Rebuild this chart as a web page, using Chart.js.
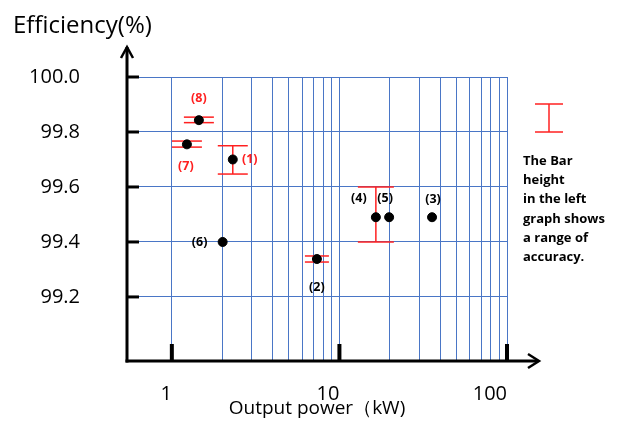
<!DOCTYPE html>
<html>
<head>
<meta charset="utf-8">
<script src="https://cdn.jsdelivr.net/npm/chart.js@4.4.1/dist/chart.umd.min.js"></script>
<style>
html, body { margin: 0; padding: 0; background: #fff; }
canvas { display: block; }
</style>
</head>
<body>
<canvas id="chart" width="617" height="421"></canvas>
<script>
// data
const pointLabels = ['(1)', '(2)', '(3)', '(4)', '(5)', '(6)', '(7)', '(8)'];
const powerKw = [2.31, 7.34, 35.7, 16.5, 19.8, 2.01, 1.23, 1.45];
const efficiency = [99.70, 99.338, 99.49, 99.49, 99.49, 99.40, 99.755, 99.843];
const errLow = [99.647, 99.327, null, 99.40, null, null, 99.745, 99.834];
const errHigh = [99.75, 99.349, null, 99.60, null, null, 99.767, 99.854];
const xGridValues = [1, 2, 3, 4, 5, 6, 7, 8, 9, 10, 20, 30, 40, 50, 60, 70, 80, 90, 100];
const xTickLabels = [1, 10, 100];
const yTickValues = [99.2, 99.4, 99.6, 99.8, 100.0];
const noteLines = ['The Bar', 'height', 'in the left', 'graph shows', 'a range of', 'accuracy.'];

// styling
const FONT = '"Open Sans", "Noto Sans", sans-serif';
const RED = '#ff2020';
const GRID = '#4a76c6';
const labelRed = [true, false, false, false, false, false, true, true];
const labelShift = [[17, 0], [0, 28], [1, -18], [-17, -19], [-4, -19], [-23, 0], [-1, 22], [0, -22]];
const capHalf = [15, 12, 0, 18, 0, 0, 15, 15];

function line(ctx, x1, y1, x2, y2) {
    ctx.beginPath();
    ctx.moveTo(x1, y1);
    ctx.lineTo(x2, y2);
    ctx.stroke();
}

const overlay = {
    id: 'overlay',
    beforeDatasetsDraw(chart) {
        const { ctx, scales: { x, y } } = chart;
        ctx.save();
        ctx.strokeStyle = RED;
        ctx.lineWidth = 1.5;
        powerKw.forEach((v, i) => {
            if (errLow[i] == null) return;
            const px = x.getPixelForValue(v);
            const lo = y.getPixelForValue(errLow[i]);
            const hi = y.getPixelForValue(errHigh[i]);
            line(ctx, px, lo, px, hi);
            line(ctx, px - capHalf[i], lo, px + capHalf[i], lo);
            line(ctx, px - capHalf[i], hi, px + capHalf[i], hi);
        });
        ctx.restore();
    },
    afterDraw(chart) {
        const { ctx, chartArea: { left, right, top, bottom }, scales: { x, y } } = chart;
        ctx.save();
        ctx.strokeStyle = '#000';
        ctx.lineCap = 'butt';

        // axes with arrows
        ctx.lineWidth = 3;
        line(ctx, left, bottom + 1.5, left, top - 30);
        line(ctx, left - 1.5, bottom, right + 31, bottom);
        ctx.lineWidth = 2.5;
        ctx.beginPath();
        ctx.moveTo(left - 6, top - 19);
        ctx.lineTo(left, top - 30);
        ctx.lineTo(left + 6, top - 19);
        ctx.stroke();
        ctx.beginPath();
        ctx.moveTo(right + 21, bottom - 7);
        ctx.lineTo(right + 32, bottom);
        ctx.lineTo(right + 21, bottom + 7);
        ctx.stroke();

        // tick marks
        ctx.lineWidth = 3;
        yTickValues.forEach(v => {
            const py = y.getPixelForValue(v);
            line(ctx, left, py, left + 12, py);
        });
        ctx.lineWidth = 4;
        xTickLabels.forEach(v => {
            const px = x.getPixelForValue(v);
            line(ctx, px, bottom, px, bottom - 17);
        });

        // point labels
        ctx.font = 'bold 12.5px ' + FONT;
        ctx.textAlign = 'center';
        ctx.textBaseline = 'middle';
        pointLabels.forEach((t, i) => {
            ctx.fillStyle = labelRed[i] ? RED : '#000';
            ctx.fillText(t, x.getPixelForValue(powerKw[i]) + labelShift[i][0],
                y.getPixelForValue(efficiency[i]) + labelShift[i][1]);
        });

        // y title
        ctx.fillStyle = '#000';
        ctx.textAlign = 'left';
        ctx.font = '24px ' + FONT;
        ctx.fillText('Efficiency(%)', 13, 26);

        // accuracy note
        ctx.strokeStyle = RED;
        ctx.lineWidth = 1.5;
        const nx = right + 42;
        line(ctx, nx, 104, nx, 132);
        line(ctx, nx - 14, 104, nx + 14, 104);
        line(ctx, nx - 14, 132, nx + 14, 132);
        ctx.font = 'bold 13px ' + FONT;
        noteLines.forEach((t, i) => ctx.fillText(t, right + 16, 161 + i * 19.3));
        ctx.restore();
    }
};

new Chart(document.getElementById('chart'), {
    type: 'scatter',
    data: {
        datasets: [{
            data: powerKw.map((v, i) => ({ x: v, y: efficiency[i] })),
            backgroundColor: '#000',
            borderColor: '#000',
            borderWidth: 1,
            pointRadius: 4.5,
            pointHoverRadius: 4.5
        }]
    },
    options: {
        responsive: false,
        animation: false,
        devicePixelRatio: 1,
        layout: { padding: { top: 77, right: 110, left: 0, bottom: 0 } },
        plugins: { legend: { display: false }, tooltip: { enabled: false } },
        scales: {
            x: {
                type: 'logarithmic',
                min: 0.54,
                max: 100,
                afterBuildTicks: s => { s.ticks = xGridValues.map(v => ({ value: v })); },
                afterFit: s => { s.height = 60; },
                border: { display: false },
                grid: { color: GRID, lineWidth: 1, drawTicks: false },
                ticks: {
                    autoSkip: false,
                    maxRotation: 0,
                    align: 'end',
                    padding: 21,
                    color: '#000',
                    font: { size: 20, family: FONT },
                    callback: v => xTickLabels.includes(v) ? String(v) : ''
                },
                title: {
                    display: true,
                    text: 'Output power（kW)',
                    color: '#000',
                    padding: { top: 0, bottom: 1 },
                    font: { size: 19, family: FONT }
                }
            },
            y: {
                min: 98.967,
                max: 100.0,
                afterBuildTicks: s => { s.ticks = yTickValues.map(v => ({ value: v })); },
                afterFit: s => { s.width = 127; },
                border: { display: false },
                grid: { color: GRID, lineWidth: 1, drawTicks: false },
                ticks: {
                    padding: 47,
                    color: '#000',
                    font: { size: 20, family: FONT },
                    callback: v => v.toFixed(1)
                }
            }
        }
    },
    plugins: [overlay]
});
</script>
</body>
</html>
